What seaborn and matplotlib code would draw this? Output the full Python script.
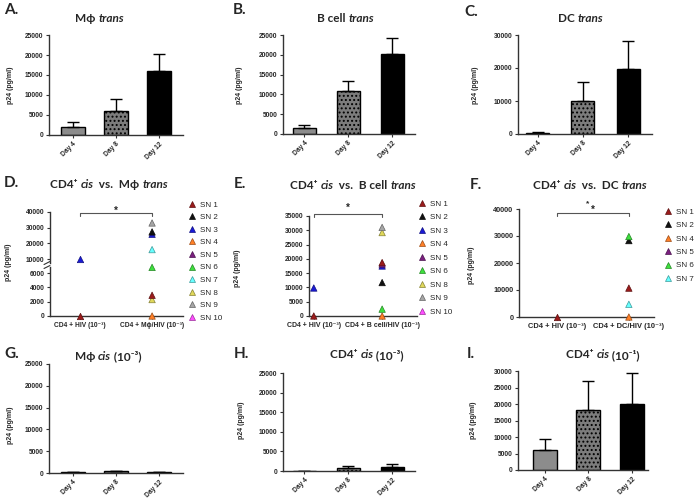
import matplotlib
matplotlib.use("Agg")
import matplotlib.pyplot as plt
from matplotlib.lines import Line2D
from matplotlib.text import Annotation
import seaborn as sns
import pandas as pd
import numpy as np

# ---- data ----
days = ["Day 4", "Day 8", "Day 12"]

a_mean = [1900, 6100, 16100]
a_sd = [1400, 2800, 4200]
b_mean = [1400, 10800, 20200]
b_sd = [800, 2700, 4000]
c_mean = [400, 9900, 19600]
c_sd = [200, 6000, 8700]
g_mean = [150, 380, 230]
g_sd = [60, 160, 80]
h_mean = [60, 770, 1020]
h_sd = [40, 600, 860]
i_mean = [6100, 18200, 20000]
i_sd = [3200, 8800, 9300]

sn_names = ["SN 1", "SN 2", "SN 3", "SN 4", "SN 5", "SN 6", "SN 7", "SN 8", "SN 9", "SN 10"]
sn_colors = ["#9b1b1b", "#111111", "#1a1ad6", "#ff7f27", "#7b1f80",
             "#3de03d", "#66ffff", "#e0d85a", "#a6a6a6", "#ff4dff"]

d_groups = ["CD4 + HIV (10⁻³)", "CD4 + Mϕ/HIV (10⁻³)"]
d_cis_sn = ["SN 1", "SN 3"]
d_cis_val = [0, 9700]
d_trans_sn = ["SN 4", "SN 8", "SN 1", "SN 6", "SN 7", "SN 3", "SN 2", "SN 9"]
d_trans_val = [0, 2300, 2900, 6800, 16000, 25800, 27300, 33000]
d_legend = sn_names

e_groups = ["CD4 + HIV (10⁻³)", "CD4 + B cell/HIV (10⁻³)"]
e_cis_sn = ["SN 1", "SN 3"]
e_cis_val = [0, 9800]
e_trans_sn = ["SN 4", "SN 6", "SN 2", "SN 3", "SN 5", "SN 1", "SN 8", "SN 9"]
e_trans_val = [0, 2400, 11700, 17500, 18200, 18700, 29200, 31000]
e_legend = ["SN 1", "SN 2", "SN 3", "SN 4", "SN 5", "SN 6", "SN 8", "SN 9", "SN 10"]

f_groups = ["CD4 + HIV (10⁻³)", "CD4 + DC/HIV (10⁻³)"]
f_cis_sn = ["SN 1"]
f_cis_val = [0]
f_trans_sn = ["SN 4", "SN 7", "SN 1", "SN 2", "SN 6"]
f_trans_val = [0, 4700, 10700, 28300, 29800]
f_legend = ["SN 1", "SN 2", "SN 4", "SN 5", "SN 6", "SN 7"]

# ---- figure setup ----
W, H = 696, 499
sns.set_style("ticks")
plt.rcParams["font.family"] = ["Liberation Sans", "DejaVu Sans"]
plt.rcParams["hatch.linewidth"] = 0.9
TITLE_FONT = ["Lato", "DejaVu Sans"]
palette = dict(zip(sn_names, sn_colors))

fig = plt.figure(figsize=(W / 100, H / 100), dpi=100)


def add_ax(l, t, r, b):
    return fig.add_axes([l / W, 1 - b / H, (r - l) / W, (b - t) / H])


def style_axis(ax, fs=4.8):
    for s in ["top", "right"]:
        ax.spines[s].set_visible(False)
    for s in ["left", "bottom"]:
        ax.spines[s].set_linewidth(1.0)
        ax.spines[s].set_color("#333333")
    ax.tick_params(length=2.5, width=0.8, pad=1.5, labelsize=fs, color="#333333")
    for lab in ax.get_yticklabels() + ax.get_xticklabels():
        lab.set_fontweight("bold")


def set_ylab(ax, x, y, fs=5):
    ax.set_ylabel("p24 (pg/ml)", fontsize=fs, fontweight="bold")
    ax.yaxis.set_label_coords(x / W, 1 - y / H, transform=fig.transFigure)


def rich_title(x, y, parts, size=8.5):
    prev = None
    for txt, style in parts:
        kw = dict(fontsize=size, fontweight="bold", fontstyle=style,
                  family=TITLE_FONT, va="center", ha="left")
        if prev is None:
            prev = fig.text(x / W, 1 - y / H, txt, **kw)
        else:
            prev = fig.add_artist(Annotation(txt, xy=(1, 0.5), xycoords=prev, **kw))


def panel_letter(x, y, s):
    fig.text(x / W, 1 - y / H, s, fontsize=11, fontweight="bold",
             family=TITLE_FONT, va="center", ha="left")


bar_faces = ["#8c8c8c", "#7c7c7c", "#000000"]
bar_hatches = ["", "....", ""]


def bar_panel(box, means, sds, ymax, step, xlim, width, ylab):
    ax = add_ax(*box)
    df = pd.DataFrame({"day": days, "p24": means})
    sns.barplot(data=df, x="day", y="p24", order=days, width=width,
                errorbar=None, color="gray", saturation=1, ax=ax)
    for patch, fc, hatch in zip(ax.patches, bar_faces, bar_hatches):
        patch.set_facecolor(fc)
        patch.set_hatch(hatch)
        patch.set_edgecolor("black")
        patch.set_linewidth(1.0)
    ax.errorbar(np.arange(len(days)), means, yerr=[np.zeros(len(days)), sds],
                fmt="none", ecolor="black", elinewidth=1, capsize=4, capthick=1)
    ax.set_xlim(*xlim)
    ax.set_ylim(0, ymax)
    ticks = list(range(0, ymax + 1, step))
    ax.set_yticks(ticks)
    ax.set_yticklabels([str(t) for t in ticks])
    ax.set_xlabel("")
    ax.set_xticks(range(len(days)))
    ax.set_xticklabels(days, rotation=45, ha="right", rotation_mode="anchor")
    style_axis(ax)
    set_ylab(ax, *ylab)
    return ax


def strip(ax, groups, cis_sn, cis_val, trans_sn, trans_val, keep=None, clip=False):
    df = pd.DataFrame({
        "group": [groups[0]] * len(cis_sn) + [groups[1]] * len(trans_sn),
        "sn": cis_sn + trans_sn,
        "p24": cis_val + trans_val,
    })
    if keep is not None:
        df = df[keep(df["p24"])]
    sns.stripplot(data=df, x="group", y="p24", hue="sn", order=groups,
                  hue_order=sn_names, palette=palette, jitter=False,
                  marker="^", size=4.6, linewidth=0.5, legend=False, ax=ax)
    for coll in ax.collections:
        fc = coll.get_facecolors()
        ec = fc.copy()
        ec[:, :3] = ec[:, :3] * 0.6
        coll.set_edgecolors(ec)
        coll.set_clip_on(clip)
        coll.set_zorder(4)
    ax.set_xlabel("")
    ax.set_ylabel("")


def sn_legend(ax, names, x, y, spacing):
    handles = []
    for n in names:
        c = palette[n]
        ec = tuple(np.array(matplotlib.colors.to_rgb(c)) * 0.6)
        handles.append(Line2D([], [], ls="", marker="^", color=c,
                              markeredgecolor=ec, markeredgewidth=0.5,
                              markersize=4.3, label=n))
    ax.legend(handles=handles, loc="upper left", bbox_to_anchor=(x / W, 1 - y / H),
              bbox_transform=fig.transFigure, frameon=False, fontsize=5.8,
              labelspacing=spacing, handlelength=1.0, handletextpad=0.5,
              borderpad=0, borderaxespad=0)


def bracket(ax, y, drop, color="#555555"):
    ax.plot([0, 0, 1, 1], [y - drop, y, y, y - drop], color=color, lw=0.8,
            clip_on=False, zorder=3)


# ---- row 1: trans bar charts ----
bar_panel((49, 35, 183, 135), a_mean, a_sd, 25000, 5000, (-0.56, 2.56), 0.54, (14, 85))
bar_panel((283, 35, 415, 134), b_mean, b_sd, 25000, 5000, (-0.48, 2.52), 0.52, (243, 85))
bar_panel((518, 35, 652, 134), c_mean, c_sd, 30000, 10000, (-0.44, 2.53), 0.51, (479, 85))

# ---- row 2: D with broken axis ----
d_up = add_ax(50, 212, 183, 263)
d_lo = add_ax(50, 267, 183, 316)
strip(d_up, d_groups, d_cis_sn, d_cis_val, d_trans_sn, d_trans_val,
      keep=lambda v: v >= 7000, clip=True)
strip(d_lo, d_groups, d_cis_sn, d_cis_val, d_trans_sn, d_trans_val,
      keep=lambda v: v < 7000, clip=False)
for ax in (d_up, d_lo):
    ax.set_xlim(-0.42, 1.43)
d_up.set_ylim(7447, 40000)
d_up.set_yticks([10000, 20000, 30000, 40000])
d_up.set_yticklabels(["10000", "20000", "30000", "40000"])
d_up.set_xticks([])
d_lo.set_ylim(0, 6857)
d_lo.set_yticks([0, 2000, 4000, 6000])
d_lo.set_yticklabels(["0", "2000", "4000", "6000"])
d_lo.set_xticks([0, 1])
d_lo.set_xticklabels(d_groups)
style_axis(d_up)
style_axis(d_lo)
d_up.spines["bottom"].set_visible(False)
set_ylab(d_up, 12, 262)
for ax, yy in ((d_up, 0.0), (d_lo, 1.0)):
    ax.plot([-0.045, 0.0], [yy - 0.03, yy + 0.03], transform=ax.transAxes,
            color="#333333", lw=0.8, clip_on=False)
bracket(d_up, 39400, 1900)
d_up.text(0.5, 40900, "*", ha="center", va="center", fontsize=7, fontweight="bold")
sn_legend(d_lo, d_legend, 188, 201, 0.61)

# ---- row 2: E ----
e_ax = add_ax(309, 216, 417, 316)
strip(e_ax, e_groups, e_cis_sn, e_cis_val, e_trans_sn, e_trans_val)
e_ax.set_xlim(-0.07, 1.51)
e_ax.set_ylim(0, 35000)
e_ax.set_yticks(range(0, 35001, 5000))
e_ax.set_yticklabels([str(t) for t in range(0, 35001, 5000)])
e_ax.set_xticks([0, 1])
e_ax.set_xticklabels(e_groups)
style_axis(e_ax)
for lab in e_ax.get_xticklabels():
    lab.set_fontsize(5.0)
set_ylab(e_ax, 241, 268)
bracket(e_ax, 35700, 1000)
e_ax.text(0.5, 37800, "*", ha="center", va="center", fontsize=7, fontweight="bold")
sn_legend(e_ax, e_legend, 418, 200, 0.73)

# ---- row 2: F ----
f_ax = add_ax(519, 209, 654, 317)
strip(f_ax, f_groups, f_cis_sn, f_cis_val, f_trans_sn, f_trans_val)
f_ax.set_xlim(-0.53, 1.35)
f_ax.set_ylim(0, 40000)
f_ax.set_yticks(range(0, 40001, 10000))
f_ax.set_yticklabels([str(t) for t in range(0, 40001, 10000)])
f_ax.set_xticks([0, 1])
f_ax.set_xticklabels(f_groups)
style_axis(f_ax, fs=5.2)
for lab in f_ax.get_xticklabels():
    lab.set_fontsize(5.4)
set_ylab(f_ax, 475, 265)
bracket(f_ax, 38500, 1100)
f_ax.text(0.43, 42000, "*", ha="center", va="center", fontsize=6, fontweight="bold")
f_ax.text(0.5, 39700, "*", ha="center", va="center", fontsize=7, fontweight="bold")
sn_legend(f_ax, f_legend, 664, 208, 0.72)

# ---- row 3: cis bar charts ----
bar_panel((49, 364, 183, 473), g_mean, g_sd, 25000, 5000, (-0.56, 2.56), 0.54, (14, 425))
bar_panel((283, 373, 415, 471), h_mean, h_sd, 25000, 5000, (-0.48, 2.52), 0.52, (245, 420))
bar_panel((518, 371, 648, 470), i_mean, i_sd, 30000, 5000, (-0.62, 2.37), 0.55, (477, 420))

# ---- titles and panel letters ----
N, I = "normal", "italic"
rich_title(75, 18, [("Mϕ ", N), ("trans", I)])
rich_title(317, 18, [("B cell ", N), ("trans", I)])
rich_title(558, 18, [("DC ", N), ("trans", I)])
rich_title(50, 185, [("CD4⁺ ", N), ("cis", I), ("  vs.  Mϕ ", N), ("trans", I)])
rich_title(290, 186, [("CD4⁺ ", N), ("cis", I), ("  vs.  B cell ", N), ("trans", I)])
rich_title(533, 186, [("CD4⁺ ", N), ("cis", I), ("  vs.  DC ", N), ("trans", I)])
rich_title(75, 356, [("Mϕ ", N), ("cis", I), (" (10⁻³)", N)])
rich_title(330, 355, [("CD4⁺ ", N), ("cis", I), (" (10⁻³)", N)])
rich_title(566, 355, [("CD4⁺ ", N), ("cis", I), (" (10⁻¹)", N)])

for x, y, s in [(4, 10, "A."), (233, 10, "B."), (464, 12, "C."),
                (4, 183, "D."), (234, 184, "E."), (470, 185, "F."),
                (4, 354, "G."), (234, 354, "H."), (467, 354, "I.")]:
    panel_letter(x, y, s)

fig.savefig("out.png", dpi=100)
